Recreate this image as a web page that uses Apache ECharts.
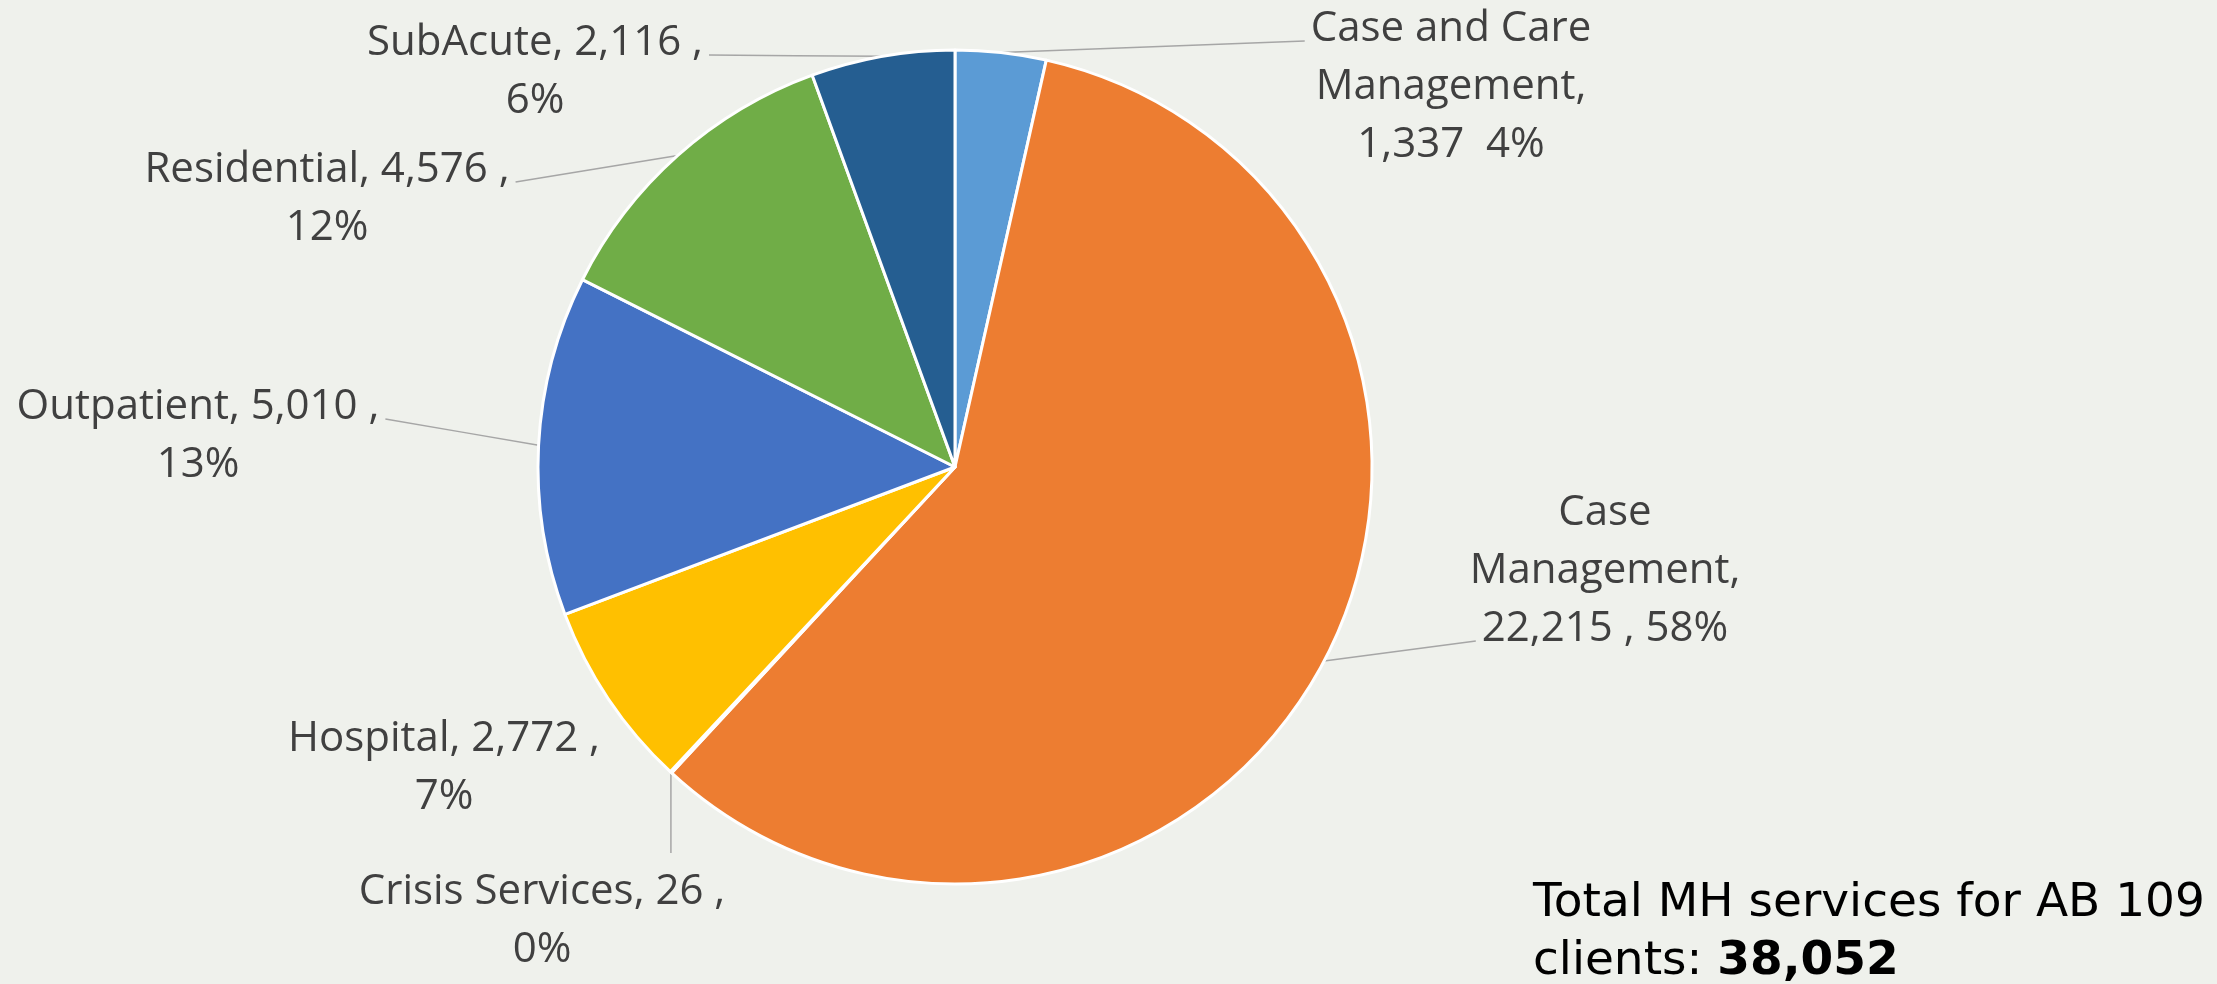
<!DOCTYPE html>
<html>
<head>
<meta charset="utf-8">
<script src="https://cdn.jsdelivr.net/npm/echarts@6/dist/echarts.min.js"></script>
<style>
  html, body { margin: 0; padding: 0; background: #eff1ec; }
  #chart { width: 2217px; height: 984px; }
</style>
</head>
<body>
<div id="chart"></div>
<script>
// services by type, clockwise from 12 o'clock
var categories = ['Case and Care Management', 'Case Management', 'Crisis Services', 'Hospital', 'Outpatient', 'Residential', 'SubAcute'];
var services = [1337, 22215, 26, 2772, 5010, 4576, 2116];
var colors = ['#5b9bd5', '#ed7d31', '#a5a5a5', '#ffc000', '#4472c4', '#70ad47', '#255e91'];
var totalLabel = 'Total MH services for AB 109';
var totalValue = services.reduce(function (a, b) { return a + b; }, 0);

// label block centres (px)
var labelPos = [[1451, 87], [1605, 571], [542, 921], [444, 768], [198, 436], [327, 199], [535, 72]];
var LINE_H = 58;
var LABEL_FONT = '42px "Open Sans"';

function fmt(n) { return n.toLocaleString('en-US'); }

var ctx = document.createElement('canvas').getContext('2d');
ctx.font = LABEL_FONT;

// straight leader from the slice edge to the nearest text line end
function leader(start, text, pos) {
  var lines = text.split('\n');
  var top = pos[1] - lines.length * LINE_H / 2;
  var gap = 6;
  var end;
  if (start[1] < top && start[0] > pos[0] - ctx.measureText(lines[0]).width / 2) {
    end = [start[0], top - 10];
  } else if (pos[0] < start[0]) {
    end = [pos[0] + ctx.measureText(lines[0]).width / 2 + gap, top + LINE_H / 2 + 12];
  } else {
    var best = 0, bestD = Infinity;
    lines.forEach(function (l, i) {
      var d = Math.abs(top + LINE_H * (i + 0.5) - start[1]);
      if (d < bestD) { bestD = d; best = i; }
    });
    end = [pos[0] - ctx.measureText(lines[best]).width / 2 - gap, top + LINE_H * (best + 0.5) + 12];
  }
  return [start, [(start[0] + end[0]) / 2, (start[1] + end[1]) / 2], end];
}

var chart = echarts.init(document.getElementById('chart'));
var option = {
  backgroundColor: '#eff1ec',
  animation: false,
  color: colors,
  graphic: [{
    type: 'text',
    left: 1533,
    top: 880,
    style: {
      text: '{a|' + totalLabel + '}\n{a|clients: }{b|' + fmt(totalValue) + '}',
      rich: {
        a: { fontFamily: 'DejaVu Sans', fontSize: 47, lineHeight: 58, fill: '#000' },
        b: { fontFamily: 'DejaVu Sans', fontSize: 47, lineHeight: 58, fontWeight: 'bold', fill: '#000' }
      }
    }
  }],
  series: [{
    type: 'pie',
    center: [955, 467],
    radius: 417,
    startAngle: 90,
    clockwise: true,
    percentPrecision: 0,
    itemStyle: { borderColor: '#ffffff', borderWidth: 3 },
    label: {
      show: true,
      position: 'outside',
      color: '#404040',
      fontFamily: 'Open Sans',
      fontSize: 42,
      lineHeight: LINE_H,
      align: 'center',
      formatter: function (p) {
        var v = fmt(p.value);
        if (p.dataIndex === 0) return 'Case and Care\nManagement,\n' + v + '  ' + p.percent + '%';
        if (p.dataIndex === 1) return 'Case\nManagement,\n' + v + ' , ' + p.percent + '%';
        return p.name + ', ' + v + ' ,\n' + p.percent + '%';
      }
    },
    labelLine: {
      show: true,
      lineStyle: { color: '#a6a6a6', width: 1.5 }
    },
    labelLayout: function (params) {
      var pos = labelPos[params.dataIndex];
      var out = { x: pos[0], y: pos[1], align: 'center', verticalAlign: 'middle' };
      if (params.labelLinePoints) {
        out.labelLinePoints = leader(params.labelLinePoints[0], params.text, pos);
      }
      return out;
    },
    data: categories.map(function (name, i) {
      var item = { name: name, value: services[i] };
      if (i === 3) item.labelLine = { show: false };
      return item;
    })
  }]
};
chart.setOption(option);
</script>
</body>
</html>
